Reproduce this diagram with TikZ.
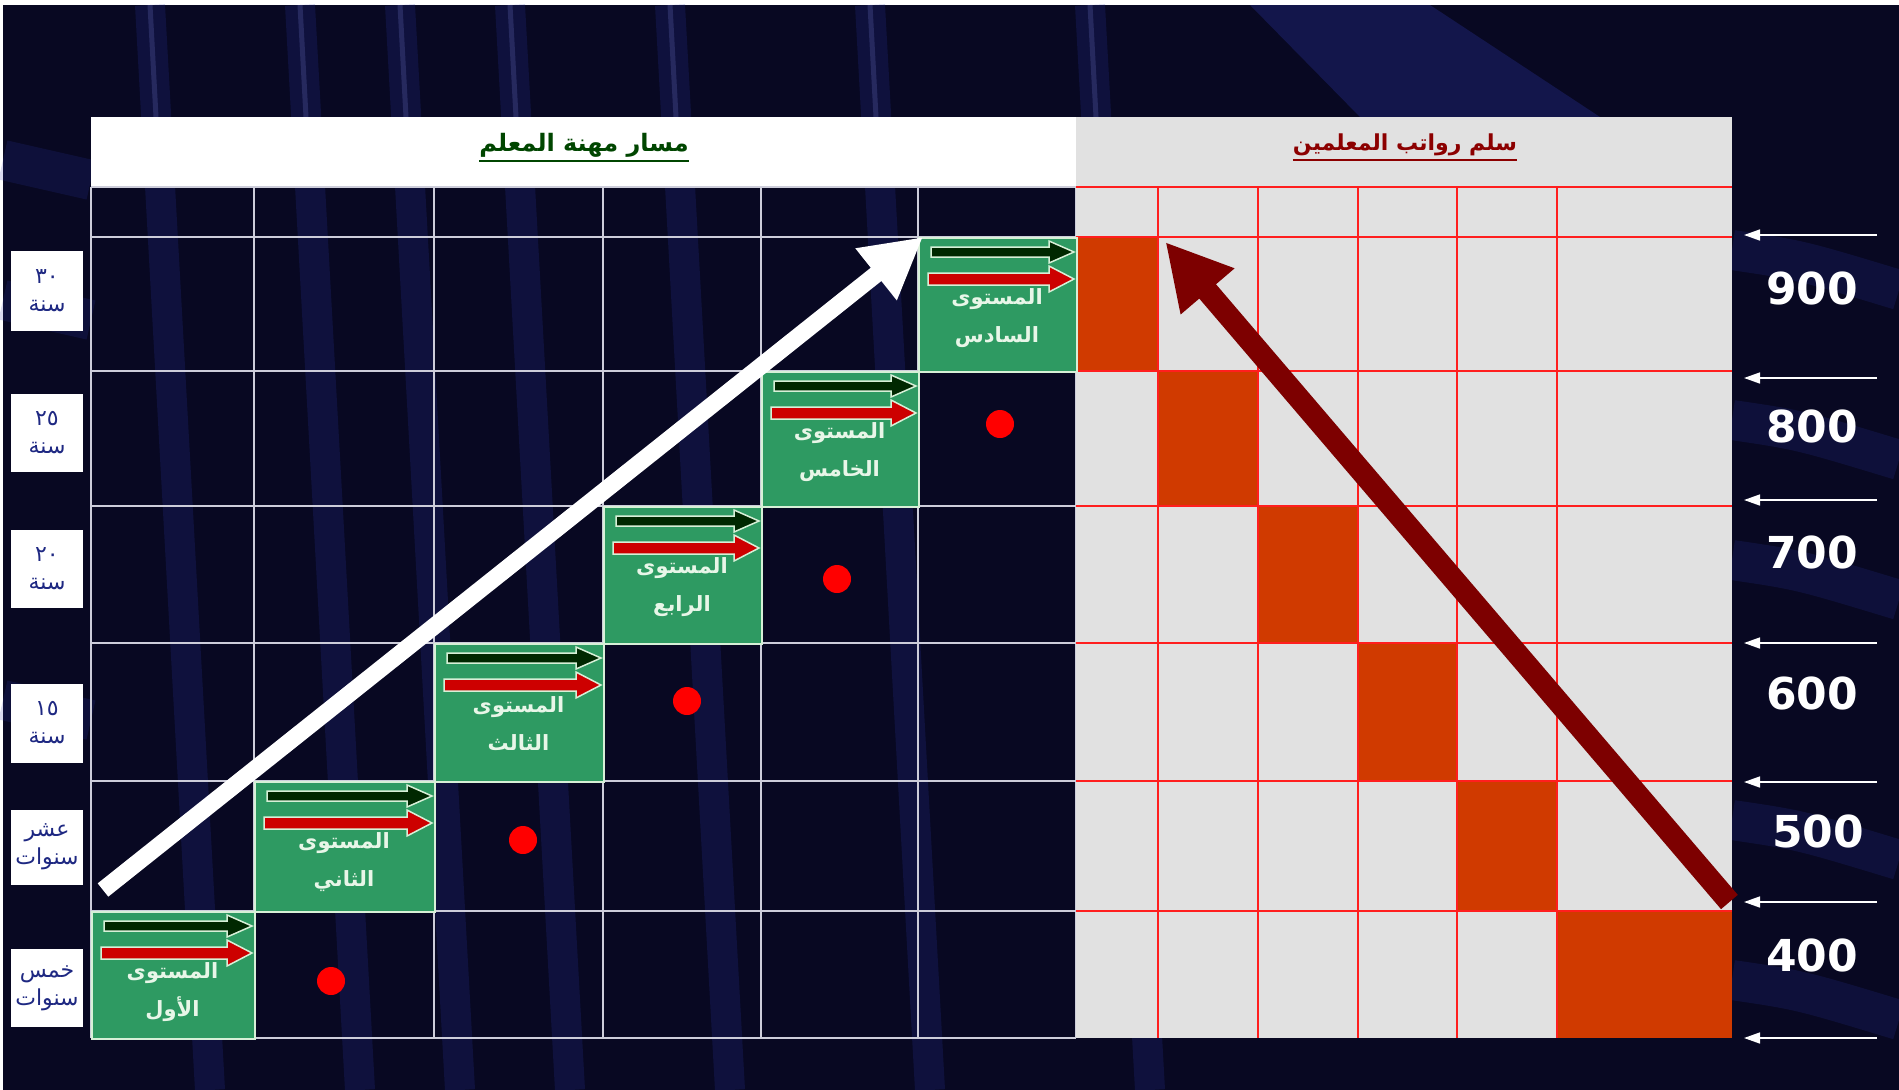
\documentclass[tikz,border=0pt]{standalone}
\usepackage{fontspec}
\usetikzlibrary{arrows.meta}
\TeXXeTstate=1
\newfontfamily\arabicfont[Script=Arabic]{DejaVu Sans}
\newfontfamily\numfont{DejaVu Sans}

\definecolor{navybg}{RGB}{8,8,34}
\definecolor{streakblue}{RGB}{45,55,170}
\definecolor{gridgray}{RGB}{205,205,218}
\definecolor{scalegray}{RGB}{225,225,225}
\definecolor{scalered}{RGB}{255,30,30}
\definecolor{cellorange}{RGB}{208,58,0}
\definecolor{levelgreen}{RGB}{46,154,98}
\definecolor{leveltxt}{RGB}{232,246,232}
\definecolor{arrowdark}{RGB}{0,40,0}
\definecolor{arrowred}{RGB}{205,0,0}
\definecolor{arrowedge}{RGB}{215,240,215}
\definecolor{headgreen}{RGB}{0,70,0}
\definecolor{headred}{RGB}{140,0,0}
\definecolor{bigred}{RGB}{125,0,0}
\definecolor{labelnavy}{RGB}{30,40,130}

\tikzset{
  levelbox/.style={draw=arrowedge, line width=2pt, fill=levelgreen, anchor=north west, inner sep=0pt},
  leveltext/.style={text=leveltxt, font=\arabicfont\bfseries\fontsize{21}{38}\selectfont, align=center},
  paycell/.style={fill=cellorange, anchor=north west, inner sep=0pt},
  yearbox/.style={fill=white, text=labelnavy, font=\arabicfont\fontsize{22}{28}\selectfont, align=center, minimum width=72pt, inner sep=0pt},
  payvalue/.style={text=white, font=\numfont\bfseries\fontsize{44}{50}\selectfont},
  reddot/.style={circle, fill=red, minimum size=28pt, inner sep=0pt},
  paytick/.style={white, line width=1.5pt, -{Triangle[length=16pt,width=11pt]}},
  streak/.style={streakblue, line width=30pt, opacity=0.2},
}

% arrow inside a level box: fill, left x, right x, y, half shaft, half head
\newcommand\lvlarrow[6]{%
  \filldraw[fill=#1, draw=arrowedge, line width=1.5pt]
    (#2,#4-#5) -- (#3-25,#4-#5) -- (#3-25,#4-#6) -- (#3,#4) -- (#3-25,#4+#6) -- (#3-25,#4+#5) -- (#2,#4+#5) -- cycle;}

\begin{document}
\begin{tikzpicture}[x=1pt, y=-1pt]
  \useasboundingbox (0,0) rectangle (1899,1090);
  \fill[white] (0,0) rectangle (1899,1090);
  \fill[navybg] (3,5) rectangle (1899,1090);

  % background streaks
  \foreach \x in {150,300,400,510,670,870,1090} {
    \draw[streak] (\x,5) -- (\x+60,1090);
    \draw[streakblue!70!white, line width=5pt, opacity=0.25] (\x,5) -- (\x+6,117);
  }
  \fill[streakblue, opacity=0.3] (1250,5) -- (1430,5) -- (1600,117) -- (1360,117) -- cycle;
  \foreach \y in {250,420,560,820,980}
    \draw[streakblue, line width=40pt, opacity=0.18] (1732,\y) .. controls (1800,\y+10) .. (1899,\y+40);
  \foreach \y in {160,300,700}
    \draw[streakblue, line width=40pt, opacity=0.18] (3,\y) -- (91,\y+20);

  % headers
  \node[fill=white, minimum width=985pt, minimum height=70pt, anchor=north west, inner sep=0pt] (careerhead) at (91,117) {};
  \node[fill=scalegray, minimum width=656pt, minimum height=70pt, anchor=north west, inner sep=0pt] (payhead) at (1076,117) {};
  \node[inner sep=0pt, text=headgreen, font=\arabicfont\bfseries\fontsize{24}{28}\selectfont] (careertitle) at (584,145) {\beginR مسار مهنة المعلم\endR};
  \draw[headgreen, line width=2pt] ([yshift=-4pt]careertitle.south west) -- ([yshift=-4pt]careertitle.south east);
  \node[inner sep=0pt, text=headred, font=\arabicfont\bfseries\fontsize{22}{28}\selectfont] (paytitle) at (1405,145) {\beginR سلم رواتب المعلمين\endR};
  \draw[headred, line width=2pt] ([yshift=-4pt]paytitle.south west) -- ([yshift=-4pt]paytitle.south east);

  % career grid
  \foreach \x in {91,254,434,603,761,918,1076}
    \draw[gridgray, line width=2.5pt] (\x,187) -- (\x,1038);
  \foreach \y in {187,237,371,506,643,781,911,1038}
    \draw[gridgray, line width=2.5pt] (91,\y) -- (1076,\y);

  % salary grid
  \fill[scalegray] (1076,187) rectangle (1732,1038);
  \foreach \i/\x/\y/\w/\h in {1/1076/237/82/134, 2/1158/371/100/135, 3/1258/506/100/137,
      4/1358/643/99/138, 5/1457/781/100/130, 6/1557/911/175/127}
    \node[paycell, minimum width=\w pt, minimum height=\h pt] (o\i) at (\x,\y) {};
  \foreach \x in {1158,1258,1358,1457,1557}
    \draw[scalered, line width=2pt] (\x,187) -- (\x,1038);
  \foreach \y in {187,237,371,506,643,781,911}
    \draw[scalered, line width=2pt] (1076,\y) -- (1732,\y);

  % levels
  \foreach \i/\x/\y/\w/\h/\lvl in {1/91/911/163/127/الأول, 2/254/781/180/130/الثاني,
      3/434/643/169/138/الثالث, 4/603/506/158/137/الرابع, 5/761/371/157/135/الخامس,
      6/918/237/158/134/السادس} {
    \node[levelbox, minimum width=\w pt, minimum height=\h pt] (l\i) at (\x,\y) {};
    \lvlarrow{arrowdark}{\x+13}{\x+\w-2}{\y+15}{5}{11}
    \lvlarrow{arrowred}{\x+10}{\x+\w-2}{\y+42}{6}{13}
    \node[leveltext] (lt\i) at (\x+\w/2,\y+81) {\beginR المستوى\endR\\\beginR \lvl\endR};
  }

  % red dots
  \foreach \i/\x/\y in {1/331/981, 2/523/840, 3/687/701, 4/837/579, 5/1000/424}
    \node[reddot] (d\i) at (\x,\y) {};

  % big arrows
  \draw[white, line width=17pt, -{Triangle[length=60pt,width=62pt]}]
    ([shift={(12,-21)}]l1.north west) -- ([shift={(5,0)}]l6.north west);
  \draw[bigred, line width=22pt, -{Triangle[length=65pt,width=66pt]}]
    ([shift={(-3,-9)}]o6.north east) -- ([shift={(7,5)}]o1.north east);

  % years
  \foreach \i/\y/\h/\top/\bot in {1/291/80/٣٠/سنة, 2/433/78/٢٥/سنة, 3/569/78/٢٠/سنة,
      4/723/79/١٥/سنة, 5/847/75/عشر/سنوات, 6/988/78/خمس/سنوات}
    \node[yearbox, minimum height=\h pt] (yr\i) at (47,\y) {\top\\\beginR\bot\endR};

  % salary values
  \foreach \v/\x/\y in {900/1812/288, 800/1812/426, 700/1812/552, 600/1812/693, 500/1818/831, 400/1812/955}
    \node[payvalue] (v\v) at (\x,\y) {\v};
  \foreach \y in {235,378,500,643,782,902,1038}
    \draw[paytick] (1877,\y) -- (1744,\y);
\end{tikzpicture}
\end{document}
